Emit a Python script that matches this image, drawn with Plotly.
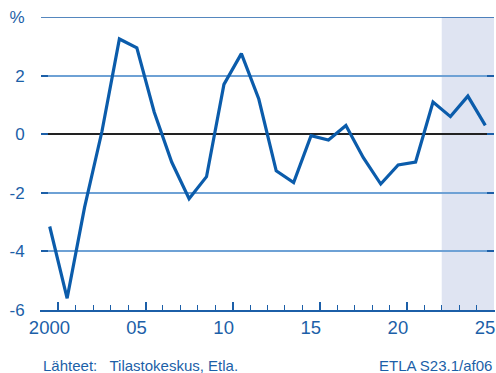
import plotly.graph_objects as go

years = list(range(2000, 2026))
values = [-3.15, -5.6, -2.5, 0.1, 3.25, 2.95, 0.75, -0.95, -2.2, -1.45,
          1.7, 2.75, 1.2, -1.25, -1.65, -0.05, -0.2, 0.3, -0.8, -1.7,
          -1.05, -0.95, 1.1, 0.6, 1.3, 0.3]
forecast_start = 2022.5
x_labels = ["2000", "05", "10", "15", "20", "25"]
y_ticks = [-6, -4, -2, 0, 2, 4]
y_labels = ["-6", "-4", "-2", "0", "2", "%"]

blue = "#1c5fa8"
font = "Liberation Sans, Arial, sans-serif"

fig = go.Figure()
fig.add_trace(go.Scatter(x=years, y=values, mode="lines",
                         line=dict(color="#0b5cab", width=3.2),
                         hoverinfo="skip"))

# forecast shading
fig.add_shape(type="rect", xref="x", yref="paper", x0=forecast_start, x1=2025.5,
              y0=0, y1=1, fillcolor="#dfe4f2", line_width=0, layer="below")
# top line at 4
fig.add_shape(type="line", xref="paper", yref="y", x0=0, x1=1, y0=4, y1=4,
              line=dict(color=blue, width=1.5))

major = [y + 0.5 for y in range(2000, 2026, 5)]
fig.update_xaxes(range=[1999.5, 2025.5], tickmode="array", tickvals=major,
                 ticktext=x_labels, ticklabelshift=-9, ticks="inside",
                 ticklen=8, tickwidth=1.5, tickcolor=blue,
                 minor=dict(tickmode="array",
                            tickvals=[y + 0.5 for y in range(1999, 2026)],
                            ticks="inside", ticklen=5, tickwidth=1.2,
                            tickcolor=blue, showgrid=False),
                 showline=True, linecolor=blue, linewidth=2, showgrid=False,
                 zeroline=False, tickfont=dict(size=18.5, color=blue, family=font))
fig.update_yaxes(range=[-6, 4], tickmode="array", tickvals=y_ticks,
                 ticktext=y_labels, showgrid=True, gridcolor="#6ea1d5",
                 gridwidth=1.5, zeroline=True, zerolinecolor="#222222",
                 zerolinewidth=2, ticks="inside", ticklen=7, tickwidth=2,
                 tickcolor=blue, showline=True, linecolor="rgba(0,0,0,0)",
                 mirror="ticks", ticklabelstandoff=12,
                 tickfont=dict(size=17, color=blue, family=font))

fig.add_annotation(text="Lähteet:\u00a0\u00a0 Tilastokeskus, Etla.", xref="paper", yref="paper",
                   x=0, y=-0.19, xanchor="left", yanchor="middle", showarrow=False,
                   font=dict(size=15, color=blue, family=font))
fig.add_annotation(text="ETLA S23.1/af06", xref="paper", yref="paper",
                   x=1, y=-0.19, xanchor="right", yanchor="middle", showarrow=False,
                   font=dict(size=15, color=blue, family=font))

fig.update_layout(width=496, height=373, margin=dict(l=41, r=2, t=17, b=63),
                  plot_bgcolor="white", paper_bgcolor="white", showlegend=False)
fig.write_html("out.html", config={"displayModeBar": False},
               post_script="document.body.style.margin='0';document.body.style.overflow='hidden';")
